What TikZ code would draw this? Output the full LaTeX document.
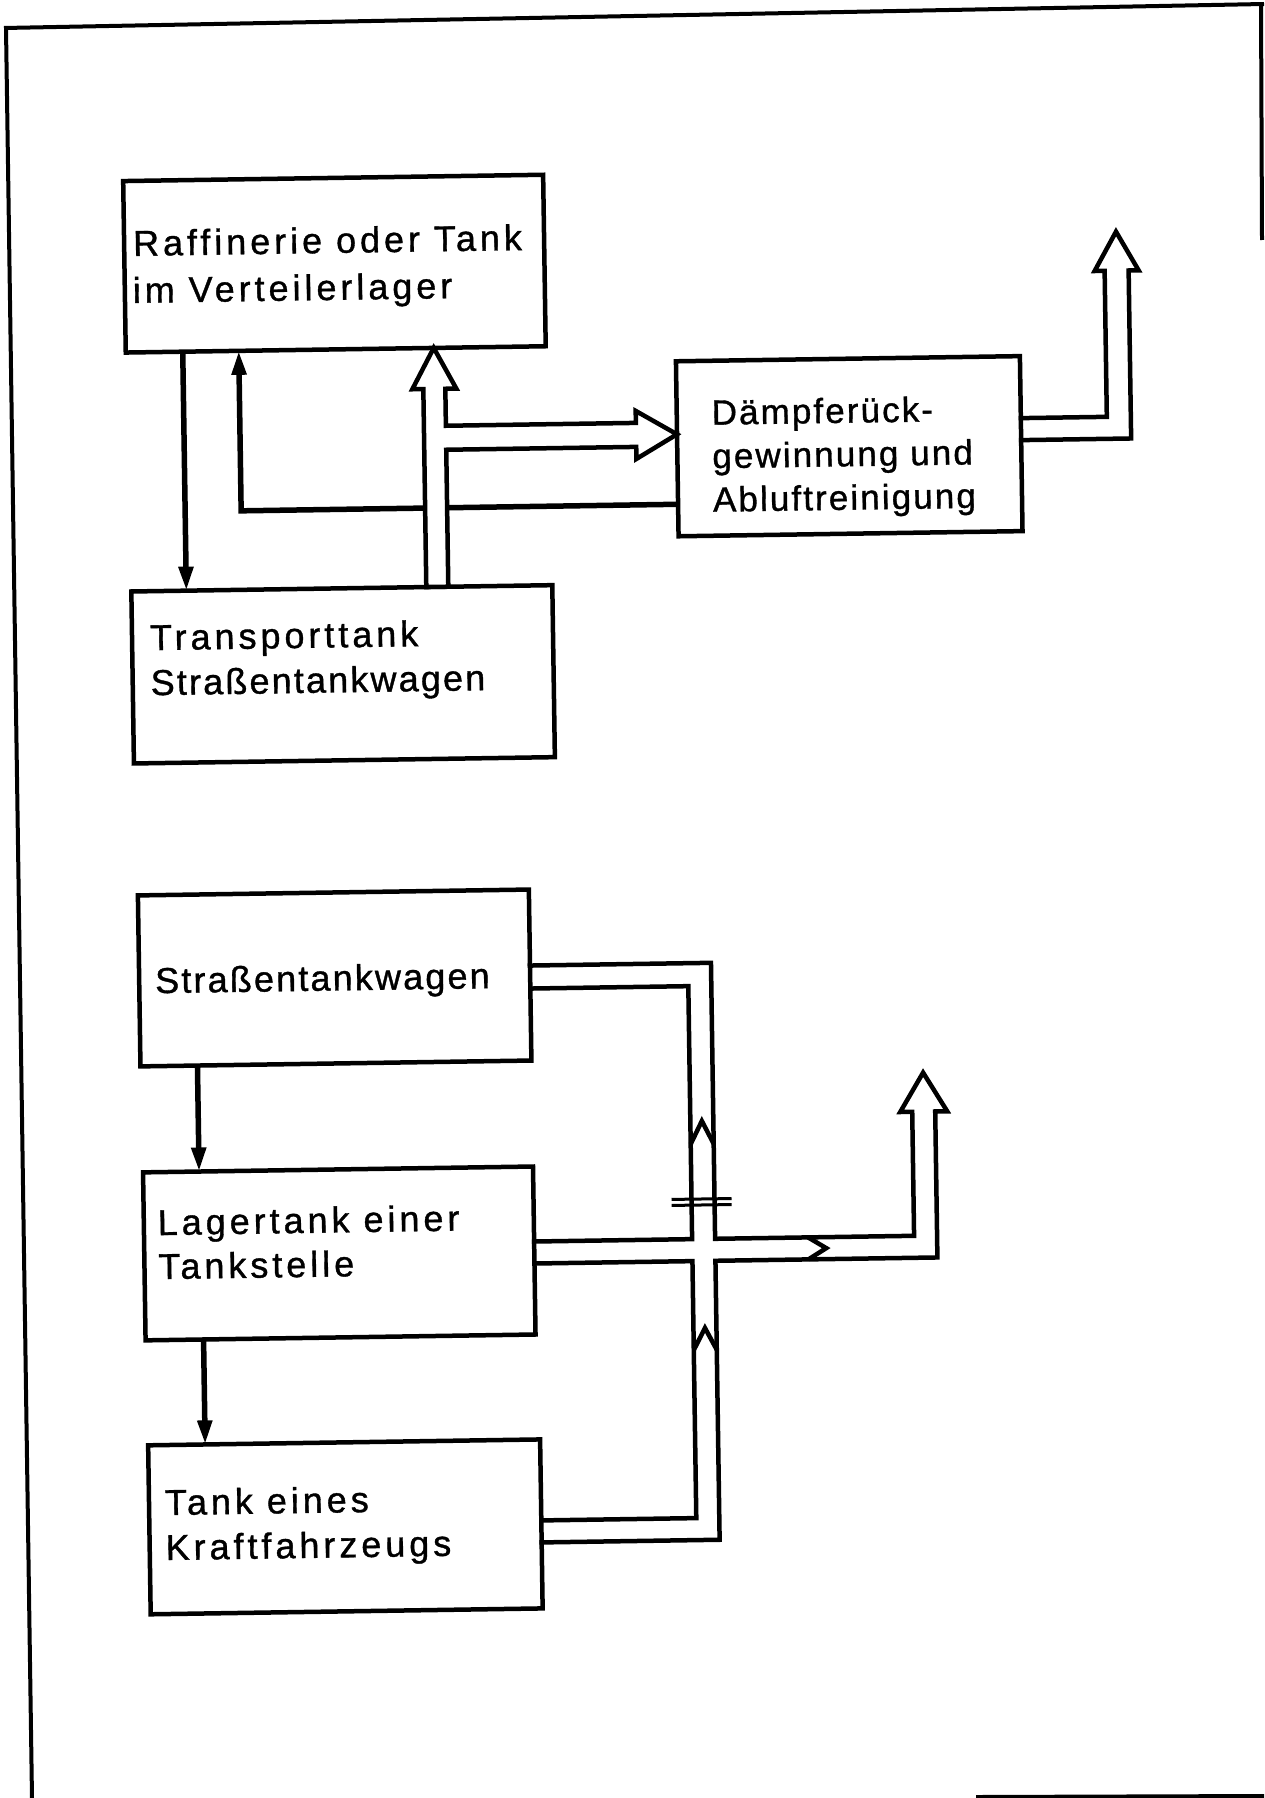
\documentclass[tikz,border=0pt]{standalone}
\usepackage{fontspec}
\setmainfont{Liberation Sans}[LetterSpace=11, FakeBold=1]
\newfontfamily\boxtwofont{Liberation Sans}[LetterSpace=6, FakeBold=1]
\usetikzlibrary{arrows.meta}
\begin{document}
\begin{tikzpicture}[x=1pt,y=-1pt,
  box/.style={draw, line width=4.5pt, rectangle, inner sep=0pt, outer sep=0pt, anchor=north west},
  lbl/.style={anchor=base west, inner sep=0pt, outer sep=0pt, font=\fontsize{36}{42}\selectfont},
  lbltwo/.style={anchor=base west, inner sep=0pt, outer sep=0pt, font=\boxtwofont\fontsize{35}{42}\selectfont},
  lblnarrow/.style={anchor=base west, inner sep=0pt, outer sep=0pt, font=\boxtwofont\fontsize{36}{42}\selectfont},
  flow/.style={line width=5.5pt, -{Triangle[length=24pt,width=14pt]}, line join=miter},
  pipe/.style={line width=4.5pt, line join=miter, line cap=rect},
  sepline/.style={line width=3pt},
  pageframe/.style={line width=4pt}
]
\useasboundingbox (0,0) rectangle (1264,1798);
\fill[white] (0,0) rectangle (1264,1798);

% page frame (scanned border)
\draw[pageframe] (4,28) -- (1264,4);
\draw[pageframe] (6,28) -- (32,1798);
\draw[pageframe] (1261,4) -- (1262,240);
\draw[pageframe] (976,1797) -- (1264,1796);

\begin{scope}[rotate around={0.86:(632,899)}, transform shape]
% ---------- boxes ----------
\node[box, minimum width=420pt, minimum height=171.5pt] (b1) at (134,173.5) {};
\node[box, minimum width=344pt, minimum height=175pt]   (b2) at (684,362) {};
\node[box, minimum width=421pt, minimum height=172pt]   (b3) at (136,584) {};
\node[box, minimum width=391pt, minimum height=171pt]   (b4) at (138,888) {};
\node[box, minimum width=390pt, minimum height=168pt]   (b5) at (139,1165) {};
\node[box, minimum width=392pt, minimum height=169pt]   (b6) at (140,1438) {};

% ---------- texts ----------
\node[lbl] (t1a) at (143,248.5) {Raffinerie oder Tank};
\node[lbl] (t1b) at (142,295.5) {im Verteilerlager};
\node[lbltwo] (t2a) at (719,426) {Dämpferück-};
\node[lbltwo] (t2b) at (719,469.5) {gewinnung und};
\node[lbltwo] (t2c) at (719,513) {Abluftreinigung};
\node[lbl] (t3a) at (154,643) {Transporttank};
\node[lblnarrow] (t3b) at (154,688) {Straßentankwagen};
\node[lblnarrow] (t4a) at (154,986) {Straßentankwagen};
\node[lbl] (t5a) at (153,1228) {Lagertank einer};
\node[lbl] (t5b) at (153,1272) {Tankstelle};
\node[lbl] (t6a) at (156,1508) {Tank eines};
\node[lbl] (t6b) at (156,1553) {Kraftfahrzeugs};

\coordinate (out1) at (1126,239);
\coordinate (out2) at (920.5,1077);

% ---------- upper diagram ----------
\draw[flow] (191,0 |- b1.south) -- (191,0 |- b3.north);
\draw[flow] (b2.west |- 0,505) -- (247,505) -- (247,0 |- b1.south);
\draw[pipe, fill=white] (431,0 |- b3.north) -- (431,386) -- (420,386) -- (442,0 |- b1.south)
   -- (464,386) -- (453,386) -- (453,423) -- (643,423) -- (643,411) -- (b2.west |- 0,435)
   -- (643,459) -- (643,447) -- (453,447) -- (453,0 |- b3.north) -- cycle;
\draw[pipe] (b2.east |- 0,424) -- (1114,424) -- (1114,278) -- (1104,278) -- (out1)
   -- (1148,278) -- (1138,278) -- (1138,446) -- (b2.east |- 0,446);

% ---------- lower diagram ----------
\draw[flow] (195,0 |- b4.south) -- (195,0 |- b5.north);
\draw[flow] (197,0 |- b5.south) -- (197,0 |- b6.north);
\draw[pipe] (b4.east |- 0,964) -- (710,964) -- (710,1240) -- (909,1240) -- (909,1116)
   -- (897,1116) -- (out2) -- (944,1116) -- (932,1116) -- (932,1262) -- (710,1262)
   -- (710,1541) -- (b6.east |- 0,1541);
\draw[pipe] (b4.east |- 0,987) -- (687,987) -- (687,1240) -- (b5.east |- 0,1240);
\draw[pipe] (b5.east |- 0,1262) -- (687,1262) -- (687,1519) -- (b6.east |- 0,1519);
% flow chevrons
\draw[pipe, line cap=butt] (687,1145) -- (698.5,1122) -- (710,1145);
\draw[pipe, line cap=butt] (687,1351) -- (698.5,1329) -- (710,1351);
\draw[pipe, line cap=butt] (803,1240) -- (821,1251) -- (803,1262);
% double line on the vertical pipe
\draw[sepline] (667,1200) -- (727,1200);
\draw[sepline] (667,1206) -- (727,1206);
\end{scope}
\end{tikzpicture}
\end{document}
